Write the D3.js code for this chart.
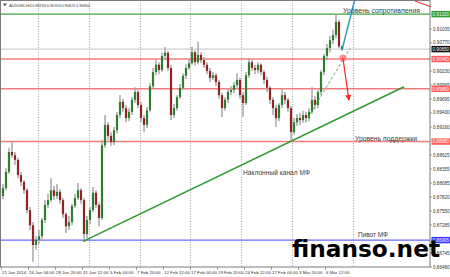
<!DOCTYPE html>
<html>
<head>
<meta charset="utf-8">
<script src="https://cdn.jsdelivr.net/npm/d3@7"></script>
<style>
  body { margin: 0; background: #fff; }
  svg { display: block; font-family: 'Liberation Sans', Arial, sans-serif; }
</style>
</head>
<body>
<div id="chart"></div>
<script>
// AUDUSD H4 candles
const opens = [0.8784,0.8799,0.8830,0.8868,0.8862,0.8853,0.8824,0.8811,0.8795,0.8757,
  0.8728,0.8690,0.8700,0.8707,0.8738,0.8767,0.8776,0.8795,0.8784,0.8792,
  0.8776,0.8749,0.8726,0.8734,0.8765,0.8780,0.8795,0.8776,0.8711,0.8738,
  0.8757,0.8790,0.8767,0.8742,0.8881,0.8920,0.8899,0.8887,0.8910,0.8939,
  0.8964,0.8952,0.8933,0.8945,0.8968,0.8983,0.8958,0.8933,0.8920,0.8948,
  0.8994,0.9021,0.9035,0.9025,0.9052,0.9058,0.9029,0.8939,0.8952,0.8973,
  0.8991,0.9014,0.9029,0.9038,0.9059,0.9040,0.9054,0.9044,0.9035,0.9023,
  0.9010,0.9015,0.9002,0.8977,0.8952,0.8968,0.8983,0.8987,0.8996,0.9006,
  0.8977,0.8962,0.9015,0.9040,0.9029,0.9025,0.9035,0.9021,0.9006,0.8991,
  0.8968,0.8952,0.8933,0.8958,0.8977,0.8968,0.8952,0.8906,0.8925,0.8933,
  0.8929,0.8939,0.8933,0.8945,0.8968,0.8958,0.8983,0.9021,0.9052,0.9067,
  0.9082,0.9092,0.9117,0.90703]
const highs = [0.8807,0.8837,0.8876,0.8887,0.8868,0.8857,0.8830,0.8814,0.8799,0.8763,
  0.8734,0.8707,0.8719,0.8742,0.8776,0.8788,0.8818,0.8803,0.8807,0.8797,
  0.8780,0.8753,0.8746,0.8769,0.8788,0.8809,0.8799,0.8780,0.8746,0.8763,
  0.8801,0.8795,0.8772,0.8891,0.8939,0.8925,0.8906,0.8916,0.8945,0.8977,
  0.8970,0.8958,0.8952,0.8973,0.8992,0.8987,0.8964,0.8939,0.8954,0.9000,
  0.9029,0.9044,0.9040,0.9058,0.9069,0.9061,0.9035,0.8960,0.8977,0.8998,
  0.9019,0.9036,0.9046,0.9069,0.9063,0.9079,0.9059,0.9050,0.9040,0.9029,
  0.9021,0.9019,0.9006,0.8981,0.8973,0.8989,0.8994,0.9002,0.9019,0.9010,
  0.8983,0.9021,0.9048,0.9044,0.9035,0.9040,0.9038,0.9025,0.9012,0.8994,
  0.8973,0.8958,0.8962,0.8991,0.8983,0.8971,0.8956,0.8933,0.8941,0.8943,
  0.8947,0.8945,0.8952,0.8992,0.8975,0.8987,0.9025,0.9056,0.9075,0.9090,
  0.9102,0.9132,0.9121,0.90703]
const lows = [0.8778,0.8795,0.8826,0.8857,0.8843,0.8818,0.8803,0.8788,0.8751,0.8719,
  0.8658,0.8681,0.8692,0.8700,0.8732,0.8761,0.8772,0.8776,0.8778,0.8769,
  0.8742,0.8713,0.8719,0.8728,0.8761,0.8776,0.8769,0.8696,0.8703,0.8730,
  0.8753,0.8761,0.8726,0.8738,0.8876,0.8891,0.8880,0.8881,0.8904,0.8933,
  0.8945,0.8925,0.8927,0.8939,0.8962,0.8952,0.8925,0.8906,0.8914,0.8945,
  0.8989,0.9015,0.9017,0.9021,0.9044,0.9023,0.8929,0.8933,0.8947,0.8970,
  0.8987,0.9008,0.9025,0.9035,0.9033,0.9036,0.9038,0.9029,0.9017,0.9002,
  0.9006,0.8994,0.8970,0.8935,0.8947,0.8962,0.8977,0.8981,0.8991,0.8970,
  0.8935,0.8958,0.9010,0.9023,0.9017,0.9019,0.9015,0.8998,0.8983,0.8960,
  0.8939,0.8916,0.8927,0.8952,0.8960,0.8945,0.8891,0.8901,0.8918,0.8920,
  0.8924,0.8925,0.8927,0.8941,0.8950,0.8952,0.8977,0.9015,0.9044,0.9059,
  0.9075,0.9086,0.9067,0.90621]
const closes = [0.8799,0.8830,0.8868,0.8862,0.8853,0.8824,0.8811,0.8795,0.8757,0.8728,
  0.8690,0.8700,0.8707,0.8738,0.8767,0.8776,0.8795,0.8784,0.8792,0.8776,
  0.8749,0.8726,0.8734,0.8765,0.8780,0.8795,0.8776,0.8711,0.8738,0.8757,
  0.8790,0.8767,0.8742,0.8881,0.8920,0.8899,0.8887,0.8910,0.8939,0.8964,
  0.8952,0.8933,0.8945,0.8968,0.8983,0.8958,0.8933,0.8920,0.8948,0.8994,
  0.9021,0.9035,0.9025,0.9052,0.9058,0.9029,0.8939,0.8952,0.8973,0.8991,
  0.9014,0.9029,0.9038,0.9059,0.9040,0.9054,0.9044,0.9035,0.9023,0.9010,
  0.9015,0.9002,0.8977,0.8952,0.8968,0.8983,0.8987,0.8996,0.9006,0.8977,
  0.8962,0.9015,0.9040,0.9029,0.9025,0.9035,0.9021,0.9006,0.8991,0.8968,
  0.8952,0.8933,0.8958,0.8977,0.8968,0.8952,0.8906,0.8925,0.8933,0.8929,
  0.8939,0.8933,0.8945,0.8968,0.8958,0.8983,0.9021,0.9052,0.9067,0.9082,
  0.9092,0.9117,0.90703,0.90650]

// time axis labels, one every 9 bars
const timeLabels = ['21 Jan 2014','24 Jan 04:00','28 Jan 20:00','31 Jan 12:00','5 Feb 04:00',
  '7 Feb 20:00','12 Feb 12:00','17 Feb 04:00','19 Feb 20:00','24 Feb 12:00',
  '27 Feb 04:00','3 Mar 20:00','6 Mar 12:00']
const timeLabelBars = [0,9,18,27,36,45,54,63,72,81,90,99,108]
const gridBars = [11.7,28.7,45.7,62.5,79.3,96.3,116.7]

// price axis
const priceTicks = [0.91035,0.90770,0.90230,0.89965,0.89695,0.89430,0.89160,
  0.88625,0.88355,0.88085,0.87820,0.87550,0.87285,0.86745,0.86480]

// horizontal levels and their label boxes
const levelPrices = [0.91320, 0.90650, 0.90460, 0.89890, 0.88880, 0.86995]
const levelColors = ['#3fa33f', '#cfcfcf', '#f47c7c', '#f47c7c', '#f47c7c', '#6a6aff']
const levelBoxes = ['#2f9a2f', '#111111', '#ff5a5a', '#ff5a5a', '#ff5a5a', '#3535ff']

// drawn objects: [bar, price] pairs
const trendLine = [[26.7, 0.8697], [133.7, 0.8993]]
const curveLine = [[100.7, 0.8925], [115.7, 0.9067]]
const upArrow = [[113, 0.9063], [117.4, 0.9163]]
const downArrow = [[113.3, 0.9048], [115.3, 0.8968]]
const cornerLine = [[137.3, 0.9157], [142.7, 0.9146]]

const width = 450
const height = 277
const plotRight = 430
const plotBottom = 267

const svg = d3.select('#chart')
  .append('svg')
  .attr('width', width)
  .attr('height', height)

svg.append('rect').attr('width', width).attr('height', height).attr('fill', '#fff')

const xScale = d3.scaleLinear().domain([0, 113]).range([3, 342])
const yScale = d3.scaleLinear().domain([0.86480, 0.91035]).range([267, 29])

const defs = svg.append('defs')
defs.append('clipPath').attr('id', 'plot')
  .append('rect').attr('x', 0).attr('y', 0).attr('width', plotRight).attr('height', plotBottom)
defs.append('marker')
  .attr('id', 'redhead')
  .attr('viewBox', '0 0 10 10')
  .attr('refX', 8).attr('refY', 5)
  .attr('markerWidth', 5).attr('markerHeight', 5)
  .attr('orient', 'auto')
  .append('path').attr('d', 'M0,0 L10,5 L0,10 z').attr('fill', '#ff2020')

const plot = svg.append('g').attr('clip-path', 'url(#plot)')

// vertical dotted grid
plot.selectAll('.grid')
  .data(gridBars)
  .enter()
  .append('line')
  .attr('x1', d => Math.round(xScale(d)) + 0.5)
  .attr('x2', d => Math.round(xScale(d)) + 0.5)
  .attr('y1', 0)
  .attr('y2', plotBottom)
  .attr('stroke', '#8a8a8a')
  .attr('stroke-width', 0.8)
  .attr('stroke-dasharray', '1,1.6')

// horizontal levels
plot.selectAll('.level')
  .data(levelPrices)
  .enter()
  .append('line')
  .attr('x1', 0)
  .attr('x2', plotRight)
  .attr('y1', d => yScale(d))
  .attr('y2', d => yScale(d))
  .attr('stroke', (d, i) => levelColors[i])
  .attr('stroke-width', (d, i) => levelColors[i] === '#f47c7c' ? 1.5 : 1.1)

// candles
const bars = d3.range(opens.length).map(i => ({
  i: i, o: opens[i], h: highs[i], l: lows[i], c: closes[i]
}))

plot.selectAll('.wick')
  .data(bars)
  .enter()
  .append('line')
  .attr('x1', d => xScale(d.i))
  .attr('x2', d => xScale(d.i))
  .attr('y1', d => yScale(d.h))
  .attr('y2', d => yScale(d.l))
  .attr('stroke', '#a2a2a2')
  .attr('stroke-width', 1.4)

plot.selectAll('.body')
  .data(bars)
  .enter()
  .append('rect')
  .attr('x', d => xScale(d.i) - 1.1)
  .attr('y', d => yScale(Math.max(d.o, d.c)))
  .attr('width', 2.2)
  .attr('height', d => Math.max(1, Math.abs(yScale(d.o) - yScale(d.c))))
  .attr('fill', d => d.c >= d.o ? '#2f7d2f' : '#8e2424')

// trend line and drawings
const line = d3.line().x(d => xScale(d[0])).y(d => yScale(d[1]))

plot.append('path').attr('d', line(trendLine))
  .attr('stroke', '#2e9a2e').attr('stroke-width', 1.5).attr('fill', 'none')

plot.append('path').attr('d', line(curveLine))
  .attr('stroke', '#5cb85c').attr('stroke-width', 1).attr('stroke-dasharray', '3,2').attr('fill', 'none')

plot.append('path').attr('d', line(upArrow))
  .attr('stroke', '#2a9cc4').attr('stroke-width', 1.5).attr('fill', 'none')

plot.append('circle')
  .attr('cx', xScale(downArrow[0][0]))
  .attr('cy', yScale(downArrow[0][1]))
  .attr('r', 3.5)
  .attr('fill', '#ff7878')
  .attr('opacity', 0.85)

plot.append('path').attr('d', line(downArrow))
  .attr('stroke', '#ff2020').attr('stroke-width', 1.2).attr('fill', 'none')
  .attr('marker-end', 'url(#redhead)')

svg.append('path').attr('d', line(cornerLine))
  .attr('stroke', '#ee3030').attr('stroke-width', 1.1).attr('fill', 'none')

// frame
svg.append('rect')
  .attr('x', 0.5).attr('y', 0.5)
  .attr('width', plotRight - 0.5).attr('height', plotBottom - 0.5)
  .attr('fill', 'none').attr('stroke', '#7a7a7a').attr('stroke-width', 1)

// price axis
const priceAxis = svg.append('g').attr('font-size', 4.6).attr('fill', '#333')
priceAxis.selectAll('.ptick')
  .data(priceTicks)
  .enter()
  .append('text')
  .attr('x', plotRight + 3)
  .attr('y', d => yScale(d) + 1.6)
  .text(d => d.toFixed(5))
priceAxis.selectAll('.pmark')
  .data(priceTicks)
  .enter()
  .append('line')
  .attr('x1', plotRight).attr('x2', plotRight + 2)
  .attr('y1', d => yScale(d)).attr('y2', d => yScale(d))
  .attr('stroke', '#666').attr('stroke-width', 0.6)

const boxes = svg.append('g')
boxes.selectAll('rect')
  .data(levelPrices)
  .enter()
  .append('rect')
  .attr('x', plotRight + 1.5)
  .attr('y', d => yScale(d) - 3.2)
  .attr('width', 18.5)
  .attr('height', 6.4)
  .attr('fill', (d, i) => levelBoxes[i])
boxes.selectAll('text')
  .data(levelPrices)
  .enter()
  .append('text')
  .attr('x', plotRight + 2.5)
  .attr('y', d => yScale(d) + 1.7)
  .attr('font-size', 4.6)
  .attr('fill', '#fff')
  .text(d => d.toFixed(5))

// time axis
const timeAxis = svg.append('g')
timeAxis.selectAll('line')
  .data(timeLabelBars)
  .enter()
  .append('line')
  .attr('x1', d => xScale(d) - 1.5).attr('x2', d => xScale(d) - 1.5)
  .attr('y1', plotBottom).attr('y2', plotBottom + 3)
  .attr('stroke', '#666').attr('stroke-width', 0.6)
timeAxis.selectAll('text')
  .data(timeLabelBars)
  .enter()
  .append('text')
  .attr('x', d => xScale(d) - 1)
  .attr('y', plotBottom + 6.5)
  .attr('font-size', 4.4)
  .attr('fill', '#333')
  .text((d, i) => timeLabels[i])

// header
svg.append('path').attr('d', 'M3,3.5 L7,3.5 L5,6.5 z').attr('fill', '#555')
svg.append('text')
  .attr('x', 9).attr('y', 6.8)
  .attr('font-size', 4.2)
  .attr('fill', '#444')
  .attr('textLength', 81)
  .text('AUDUSD,H4  0.90703 0.90703 0.90621 0.90650')

// annotations
const notes = [
  { t: 'Уровень сопротивления', x: 343, y: 13, w: 77, s: 7.6 },
  { t: 'Уровень поддержки', x: 355, y: 140.5, w: 62, s: 7.6 },
  { t: 'Наклонный канал МФ', x: 243, y: 174.5, w: 67, s: 7.6 },
  { t: 'Пивот МФ', x: 358, y: 237, w: 30, s: 6.6 }
]
svg.selectAll('.note')
  .data(notes)
  .enter()
  .append('text')
  .attr('x', d => d.x)
  .attr('y', d => d.y)
  .attr('font-size', d => d.s)
  .attr('fill', '#3a3a3a')
  .attr('textLength', d => d.w)
  .attr('lengthAdjust', 'spacingAndGlyphs')
  .text(d => d.t)

// watermark
svg.append('text')
  .attr('x', 292)
  .attr('y', 257)
  .attr('font-family', 'DejaVu Sans')
  .attr('font-weight', 'bold')
  .attr('font-size', 22.5)
  .attr('fill', '#000')
  .attr('textLength', 148)
  .attr('lengthAdjust', 'spacingAndGlyphs')
  .text('finanso.net')
</script>
</body>
</html>
